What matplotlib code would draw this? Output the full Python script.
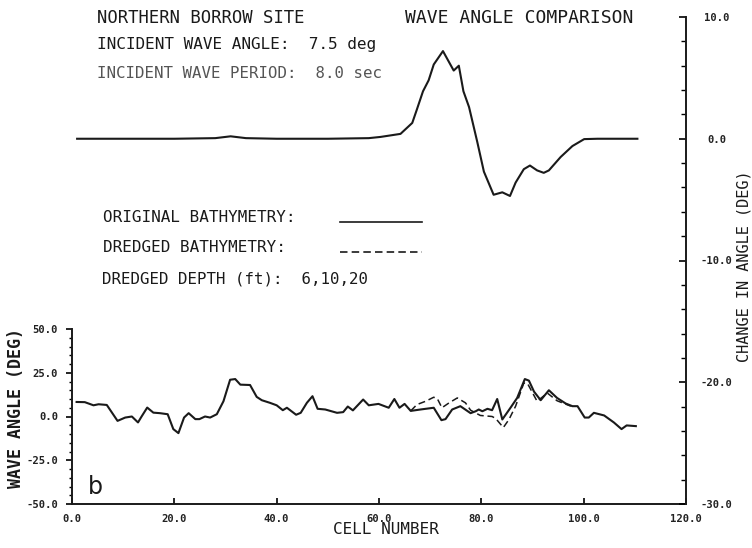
import matplotlib
matplotlib.use("Agg")
import matplotlib.pyplot as plt

# ---------------- data ----------------
change_x = [1, 10, 20, 28, 31, 34, 40, 50, 58, 60.3, 64.2, 66.5, 67.4, 68.6, 69.7,
            70.7, 72.5, 74.6, 75.6, 76.5, 77.6, 79.2, 80.5, 82.4, 84.1, 85.6, 86.7,
            88.3, 89.5, 90.9, 92.2, 93.2, 95.5, 97.8, 100.1, 102.7, 110.5]
change_y = [0, 0, 0, 0.05, 0.2, 0.05, 0, 0, 0.05, 0.15, 0.4, 1.3, 2.4, 3.9, 4.8,
            6.1, 7.2, 5.6, 6.0, 3.9, 2.6, -0.25, -2.7, -4.6, -4.4, -4.7, -3.6,
            -2.5, -2.2, -2.6, -2.8, -2.6, -1.5, -0.6, -0.03, 0, 0]

orig_x = [0.9, 2.5, 4.2, 5.2, 6.8, 8.9, 10.4, 11.7, 12.9, 13.6, 14.7, 15.9, 17.2,
          18.7, 19.8, 20.8, 21.9, 22.8, 24.1, 24.9, 26.0, 27.0, 28.3, 29.6, 30.9,
          31.9, 32.9, 34.8, 36.1, 37.1, 38.7, 40.0, 41.2, 42.0, 43.8, 44.7, 45.9,
          47.0, 48.0, 49.5, 51.8, 53.0, 53.9, 54.9, 56.9, 58.0, 59.9, 61.9, 63.0,
          64.0, 65.0, 66.2, 68.1, 70.7, 72.2, 73.0, 74.3, 75.9, 77.9, 78.9, 79.5,
          80.2, 81.2, 82.1, 83.1, 84.1, 85.7, 87.0, 88.5, 89.3, 90.3, 91.6, 93.2,
          94.8, 96.5, 97.8, 98.8, 100.2, 101.0, 102.0, 104.0, 105.9, 107.4, 108.4,
          110.2]
orig_y = [8.3, 8.2, 6.4, 7.0, 6.6, -2.5, -0.6, 0.0, -3.4, 0.0, 5.1, 2.2, 1.9,
          1.3, -7.2, -9.5, -0.6, 1.9, -1.5, -1.5, 0.0, -0.6, 1.3, 8.7, 21.0,
          21.4, 18.2, 18.0, 11.2, 9.3, 7.8, 6.4, 3.6, 5.0, 1.0, 2.1, 7.8,
          11.6, 4.4, 4.0, 2.1, 2.5, 5.7, 3.5, 9.7, 6.4, 7.2, 5.0, 10.0,
          5.0, 7.2, 3.2, 4.0, 5.0, -2.1, -1.5, 4.0, 5.9, 1.9, 3.0, 4.0,
          3.0, 4.4, 3.6, 10.0, -1.7, 5.0, 10.6, 21.4, 20.5, 14.2, 9.3, 15.0,
          10.6, 7.4, 5.9, 5.9, -0.6, -0.6, 2.1, 0.6, -3.4, -7.2, -5.1,
          -5.5]

dredged_x = [66.2, 67.4, 69.1, 70.7, 71.4, 72.3, 73.7, 75.3, 76.9, 77.9, 79.8,
             82.1, 82.8, 84.3, 85.4, 86.7, 88.3, 89.0, 90.9, 92.9, 94.8, 97.5]
dredged_y = [3.2, 6.8, 8.7, 11.0, 10.2, 5.0, 7.8, 10.6, 7.8, 3.6, 0.6,
             0.0, -1.1, -6.3, -1.7, 5.9, 19.1, 19.0, 8.7, 13.4, 9.0, 5.9]

x_ticks = [0, 20, 40, 60, 80, 100, 120]
x_ticklabels = ["0.0", "20.0", "40.0", "60.0", "80.0", "100.0", "120.0"]
left_ticks = [-50, -25, 0, 25, 50]
left_ticklabels = ["-50.0", "-25.0", "0.0", "25.0", "50.0"]
right_ticks = [-30, -20, -10, 0, 10]
right_ticklabels = ["-30.0", "-20.0", "-10.0", "0.0", "10.0"]

# ---------------- layout ----------------
W, H = 752, 548
plt.rcParams["font.family"] = ["DejaVu Sans Mono", "DejaVu Sans"]
fig = plt.figure(figsize=(W / 100, H / 100), dpi=100)
fig.patch.set_facecolor("white")


def rect(x0, y0, x1, y1):
    return [x0 / W, 1 - y1 / H, (x1 - x0) / W, (y1 - y0) / H]


AX_L, AX_R, AX_B = 72, 686, 504
ax_b = fig.add_axes(rect(AX_L, 329, AX_R, AX_B))
ax_r = fig.add_axes(rect(AX_L, 17, AX_R, AX_B))
ax_r.patch.set_alpha(0)

ink = "#1a1a1a"
dash = (0, (4.5, 2.5))
lw = 1.5
ax_b.plot(orig_x, orig_y, color=ink, lw=lw, solid_joinstyle="round")
ax_b.plot(dredged_x, dredged_y, color=ink, lw=1.1, ls=dash)
ax_r.plot(change_x, change_y, color=ink, lw=lw, solid_joinstyle="round")

for ax in (ax_b, ax_r):
    ax.set_xlim(0, 120)

ax_b.set_ylim(-50, 50)
ax_r.set_ylim(-30, 10)

tick_font = dict(fontsize=7.6, fontweight="bold", color="#222222")

# bottom axes: left + bottom spines
for s in ("top", "right"):
    ax_b.spines[s].set_visible(False)
for s in ("left", "bottom"):
    ax_b.spines[s].set_linewidth(1.4)
    ax_b.spines[s].set_color(ink)
ax_b.set_xticks(x_ticks)
ax_b.set_xticklabels(x_ticklabels, **tick_font)
ax_b.set_yticks(left_ticks)
ax_b.set_yticklabels(left_ticklabels, **tick_font)
ax_b.set_yticks(list(range(-45, 50, 5)), minor=True)
ax_b.tick_params(axis="x", direction="in", length=4, width=1.2, pad=7)
ax_b.tick_params(axis="y", which="major", direction="out", length=4, width=1.2, pad=6)
ax_b.tick_params(axis="y", which="minor", direction="out", length=2.5, width=1.0)

# right axes: only right spine
for s in ("top", "left", "bottom"):
    ax_r.spines[s].set_visible(False)
ax_r.spines["right"].set_linewidth(1.4)
ax_r.spines["right"].set_color(ink)
ax_r.set_xticks([])
ax_r.yaxis.tick_right()
ax_r.set_yticks(right_ticks)
ax_r.set_yticklabels(right_ticklabels, ha="center", **tick_font)
ax_r.set_yticks([v for v in range(-28, 10, 2) if v % 10 != 0], minor=True)
ax_r.tick_params(axis="y", which="major", direction="in", length=5, width=1.2, pad=22)
ax_r.tick_params(axis="y", which="minor", direction="in", length=3.5, width=1.0)

# ---------------- text helpers ----------------
renderer = fig.canvas.get_renderer()


def fit_text(x0, x1, yc, s, rotation=0, base=10, maxsize=None, center=False, **kw):
    """Place text whose extent (px) spans x0..x1 (or y-span when rotated)."""
    t = fig.text(0, 0, s, fontsize=base, rotation=rotation, **kw)
    bb = t.get_window_extent(renderer=renderer)
    span = bb.width if rotation == 0 else bb.height
    size = base * (x1 - x0) / span
    if maxsize is not None:
        size = min(size, maxsize)
    t.set_fontsize(size)
    if rotation == 0:
        if center:
            t.set_position(((x0 + x1) / 2 / W, 1 - yc / H))
            t.set_ha("center")
        else:
            t.set_position((x0 / W, 1 - yc / H))
            t.set_ha("left")
        t.set_va("center")
    else:
        t.set_position((yc / W, 1 - (x0 + x1) / 2 / H))
        t.set_ha("center")
        t.set_va("center")
    return t


fit_text(97, 305, 18, "NORTHERN BORROW SITE", maxsize=12.5, color=ink)
fit_text(405, 655, 18, "WAVE ANGLE COMPARISON", maxsize=13, color=ink)
fit_text(97, 377, 45, "INCIDENT WAVE ANGLE:  7.5 deg", maxsize=11.5, color=ink)
fit_text(97, 381, 73, "INCIDENT WAVE PERIOD:  8.0 sec", maxsize=11.5, color="#555555")
fit_text(103, 327, 218, "ORIGINAL BATHYMETRY:", maxsize=11.5, color=ink)
fit_text(103, 314, 248, "DREDGED BATHYMETRY:", maxsize=11.5, color=ink)
fit_text(102, 368, 279, "DREDGED DEPTH (ft):  6,10,20", maxsize=11.5, color=ink)

# legend sample lines
fig.add_artist(plt.Line2D([340 / W, 422 / W], [1 - 222 / H, 1 - 222 / H],
                          color=ink, lw=1.2))
fig.add_artist(plt.Line2D([340 / W, 422 / W], [1 - 252 / H, 1 - 252 / H],
                          color=ink, lw=1.2, ls=dash))

# axis titles
fit_text(323, 448, 530, "CELL NUMBER", maxsize=11.5, center=True, color=ink)
fit_text(322, 494, 16, "WAVE ANGLE (DEG)", rotation=90, maxsize=12,
         color=ink, fontweight="bold")
fit_text(142, 390, 744, "CHANGE IN ANGLE (DEG)", rotation=90, maxsize=11,
         color=ink)

fig.text(88 / W, 1 - 487 / H, "b", fontsize=17, ha="left", va="center",
         color=ink, family="DejaVu Sans")

fig.savefig("out.png", dpi=100, facecolor="white")
